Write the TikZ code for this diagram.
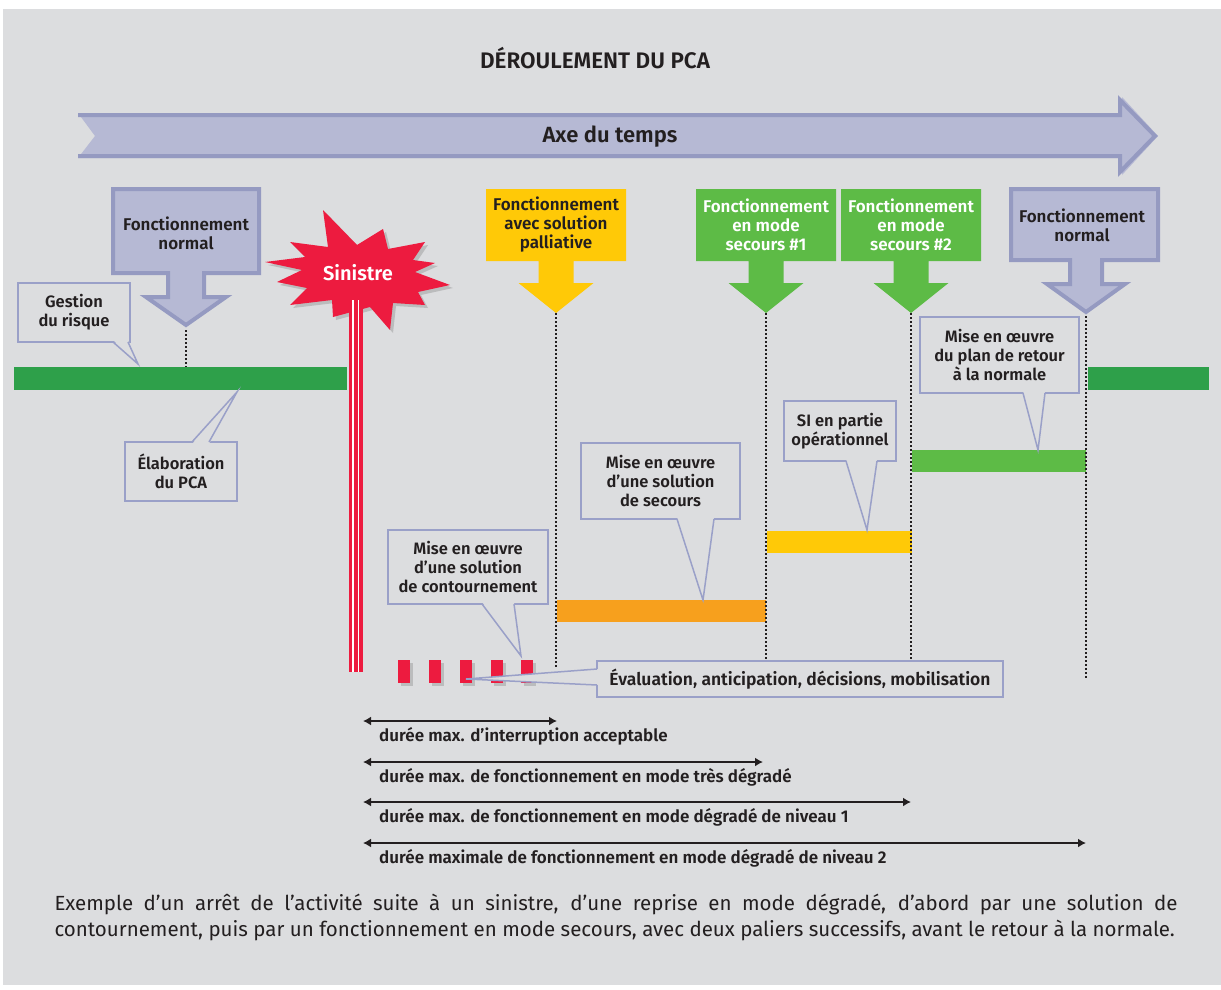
\documentclass[tikz,border=0pt]{standalone}
\usepackage{fontspec}
\setmainfont{Fira Sans}[BoldFont={* SemiBold}]
\usetikzlibrary{arrows.meta, shadows}

\definecolor{fond}{HTML}{DCDDDF}
\definecolor{lavande}{HTML}{B6B9D4}
\definecolor{lavandebord}{HTML}{959AC1}
\definecolor{jaune}{HTML}{FFC907}
\definecolor{vert}{HTML}{5DBB46}
\definecolor{vertfonce}{HTML}{2EA04A}
\definecolor{orangepca}{HTML}{F7A01D}
\definecolor{rouge}{HTML}{ED1B3F}
\definecolor{bullebord}{HTML}{9AA0C8}
\definecolor{encre}{HTML}{231F20}

\begin{document}
\begin{tikzpicture}[x=1pt, y=-1pt, >={Latex[length=8pt,width=9pt]},
  txt/.style={font=\bfseries\fontsize{17}{19}\selectfont, text=encre, align=center, inner sep=0pt},
  bulle/.style={txt, font=\bfseries\fontsize{16.5}{19}\selectfont, draw=bullebord, line width=1.5, fill=fond},
  pointe/.style={draw=bullebord, line width=1.5},
  pointille/.style={line width=1.5, dash pattern=on 1.5pt off 2.5pt, encre},
  cote/.style={<->, line width=1.8, encre},
  ombre/.style={drop shadow={shadow xshift=3pt, shadow yshift=-3pt, opacity=.35}}]
\useasboundingbox (0,0) rectangle (1221,990);
\fill[white] (0,0) rectangle (1221,990);
\fill[fond] (3,9) rectangle (1221,985);

\node[txt, font=\bfseries\fontsize{22.5}{24}\selectfont] (titre) at (595,58) {DÉROULEMENT DU PCA};

% axe du temps
\fill[lavande] (78,113) -- (1122,113) -- (1122,97) -- (1158,136) -- (1122,175) -- (1122,158) -- (78,158) -- (95,136) -- cycle;
\draw[lavandebord, line width=4] (78,115) -- (1120,115) -- (1120,100) -- (1155,136) -- (1120,172) -- (1120,156) -- (78,156);
\node[txt, font=\bfseries\fontsize{22}{24}\selectfont] (axe) at (610,137) {Axe du temps};

% barres
\fill[vertfonce] (14,367) rectangle (347,390);
\fill[vertfonce] (1088,367) rectangle (1209,390);
\fill[vert] (912,450) rectangle (1086,472);
\fill[jaune] (767,531) rectangle (912,553);
\fill[orangepca] (557,600) rectangle (766,622);

% fleches
\filldraw[fill=lavande, draw=lavandebord, line width=4] (113,189) -- (259,189) -- (259,273) -- (204,273) -- (204,297) -- (226,297) -- (186,325) -- (146,297) -- (168,297) -- (168,273) -- (113,273) -- cycle;
\node[txt] (normalA) at (186,233) {Fonctionnement\\normal};
\coordinate (normalA-pointe) at (186,330);

\filldraw[fill=lavande, draw=lavandebord, line width=4] (1011,189) -- (1158,189) -- (1158,260) -- (1102,260) -- (1102,284) -- (1125,284) -- (1086,312) -- (1047,284) -- (1070,284) -- (1070,260) -- (1011,260) -- cycle;
\node[txt] (normalB) at (1082,225) {Fonctionnement\\normal};
\coordinate (normalB-pointe) at (1086,316);

\foreach \c/\col/\enc/\nom/\t in {556/jaune/encre/palliatif/{Fonctionnement\\avec solution\\palliative},
  766/vert/white/secoursA/{Fonctionnement\\en mode\\secours \#1},
  911/vert/white/secoursB/{Fonctionnement\\en mode\\secours \#2}}{
  \fill[\col] (\c-70,189) -- (\c+70,189) -- (\c+70,261) -- (\c+17.5,261) -- (\c+17.5,283) -- (\c+37.5,283) -- (\c,313) -- (\c-37.5,283) -- (\c-17.5,283) -- (\c-17.5,261) -- (\c-70,261) -- cycle;
  \node[txt, text=\enc] (\nom) at (\c,224.5) {\t};
  \coordinate (\nom-pointe) at (\c,313);
}

\draw[pointille] (normalA-pointe) -- (186,367);
\draw[pointille] (palliatif-pointe) -- (556,668);
\draw[pointille] (secoursA-pointe) -- (766,668);
\draw[pointille] (secoursB-pointe) -- (911,668);
\draw[pointille] (normalB-pointe) -- (1086,680);

% sinistre
\fill[rouge, ombre] (323,210) -- (357,245) -- (383,229) -- (388,249) -- (425,242) -- (413,260) -- (435,263) -- (415,272) -- (450,285) -- (418,292) -- (425,305) -- (393,303) -- (390,330) -- (370,307) -- (333,317) -- (332,300) -- (290,305) -- (307,288) -- (277,282) -- (302,270) -- (265,262) -- (305,257) -- (290,242) -- (328,247) -- cycle;
\node[txt, font=\bfseries\fontsize{20}{22}\selectfont, text=white] (sinistre) at (358,273) {Sinistre};
\fill[rouge] (349,300) rectangle (363,672);
\draw[white, line width=1.2] (352.9,300) -- (352.9,672) (358.6,300) -- (358.6,672);

\foreach \x in {398,429,460,491,521}
  \fill[rouge, ombre] (\x,660) rectangle ++(12,23);

% bulles
\node[bulle, minimum width=112, minimum height=59] (gestion) at (74,312.5) {Gestion\\du risque};
\fill[fond] (113,340) -- (138,364) -- (128,340) -- cycle;
\draw[pointe] (113,342) -- (138,364) -- (128,342);

\node[bulle, minimum width=112, minimum height=59] (elaboration) at (181,471.5) {Élaboration\\du PCA};
\fill[fond] (192,444) -- (237,392) -- (209,444) -- cycle;
\draw[pointe] (192,442) -- (237,392) -- (209,442);

\node[bulle, minimum width=160, minimum height=74] (contournement) at (468,567) {Mise en œuvre\\d’une solution\\de contournement};
\fill[fond] (482,602) -- (521,656) -- (514,602) -- cycle;
\draw[pointe] (482,604) -- (521,656) -- (514,604);

\node[bulle, minimum width=159, minimum height=76] (secours) at (660.5,481) {Mise en œuvre\\d’une solution\\de secours};
\fill[fond] (677,517) -- (703,600) -- (714,517) -- cycle;
\draw[pointe] (677,519) -- (703,600) -- (714,519);

\node[bulle, minimum width=112, minimum height=60] (partiel) at (840,431) {SI en partie\\opérationnel};
\fill[fond] (846,459) -- (867,530) -- (877,459) -- cycle;
\draw[pointe] (846,461) -- (867,530) -- (877,461);

\node[bulle, minimum width=159, minimum height=76] (retour) at (999.5,355) {Mise en œuvre\\du plan de retour\\à la normale};
\fill[fond] (1023,391) -- (1038,450) -- (1045,391) -- cycle;
\draw[pointe] (1023,393) -- (1038,450) -- (1045,393);

\node[bulle, font=\bfseries\fontsize{17.5}{19}\selectfont, minimum width=406, minimum height=36] (evaluation) at (800,679) {Évaluation, anticipation, décisions, mobilisation};
\fill[fond] (599,669) -- (466,679) -- (599,685) -- cycle;
\draw[pointe] (597,669) -- (466,679) -- (597,685);

% durees
\foreach \i/\y/\x/\t in {1/721/557/{durée max. d’interruption acceptable},
  2/762/763/{durée max. de fonctionnement en mode très dégradé},
  3/802/911/{durée max. de fonctionnement en mode dégradé de niveau 1},
  4/843/1086/{durée maximale de fonctionnement en mode dégradé de niveau 2}}{
  \coordinate (c\i-a) at (363,\y);
  \coordinate (c\i-b) at (\x,\y);
  \draw[cote] (c\i-a) -- (c\i-b);
  \node[txt, font=\bfseries\fontsize{17}{18}\selectfont, anchor=west] (l\i) at (379,\y+15) {\t};
}

\node[text width=1123, align=justify, inner sep=0pt, text=encre, font=\fontsize{20.5}{26}\selectfont] (legende) at (616,917)
  {\parfillskip=0pt Exemple d’un arrêt de l’activité suite à un sinistre, d’une reprise en mode dégradé, d’abord par une solution de\linebreak contournement, puis par un fonctionnement en mode secours, avec deux paliers successifs, avant le retour à la normale.};
\end{tikzpicture}
\end{document}
